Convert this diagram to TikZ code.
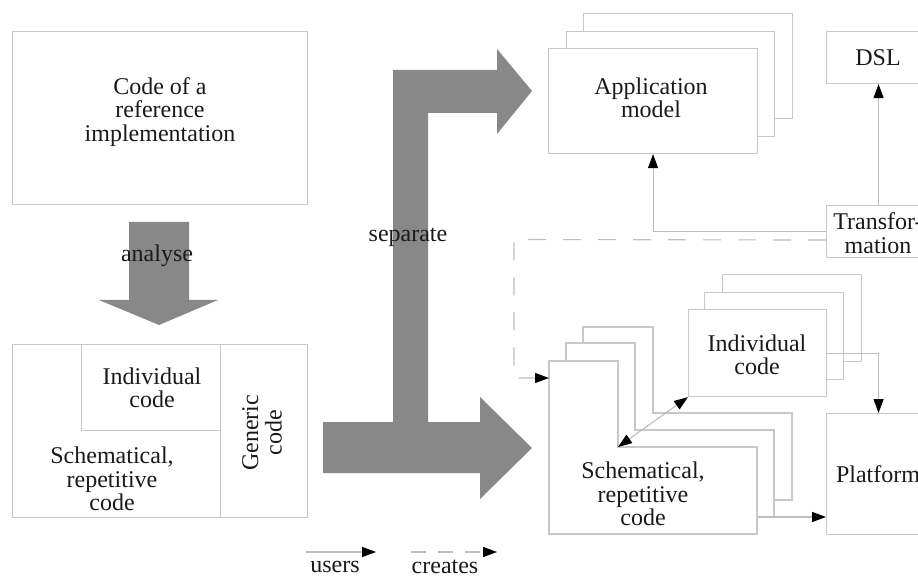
\documentclass[tikz,border=0pt]{standalone}
\usepackage{fontspec}
\setmainfont{Liberation Serif}
\usetikzlibrary{arrows.meta,calc}

\definecolor{boxgray}{HTML}{C8C8C8}
\definecolor{linegray}{HTML}{BEBEBE}
\definecolor{bigfill}{HTML}{888888}
\definecolor{ink}{HTML}{1A1A1A}

% L-shaped box: left, top, notch x, notch y, right, bottom
\newcommand{\lbox}[6]{%
  \filldraw[boxline] (#1,#2) -- (#3,#2) -- (#3,#4) -- (#5,#4) -- (#5,#6) -- (#1,#6) -- cycle;}

\begin{document}
\begin{tikzpicture}[x=1pt,y=-1pt,
  font=\fontsize{24}{23.5}\selectfont, text=ink,
  boxline/.style={draw=boxgray, line width=1.1pt, fill=white},
  rectbox/.style={boxline, inner sep=0pt, anchor=north west},
  label/.style={align=center, inner sep=0pt},
  tipshape/.style={Triangle[length=14pt,width=10pt,color=black]},
  conn/.style={draw=linegray, line width=1.1pt, -{Triangle[length=14pt,width=10pt,color=black]}},
  dconn/.style={conn, dash pattern=on 18pt off 17pt},
  bigarrow/.style={fill=bigfill, draw=none}]

\useasboundingbox (0,0) rectangle (918,577);
\clip (0,0) rectangle (918,577);
\fill[white] (0,0) rectangle (918,577);

% ---------- left column ----------
\node[rectbox, minimum width=295pt, minimum height=173pt] (ref) at (12,31) {};
\node[label] (reftext) at (160,112) {Code of a\\reference\\implementation};

\fill[bigarrow] (129,222) -- (189,222) -- (189,300) -- (218,300) -- (159,325)
  -- (99,300) -- (129,300) -- cycle;
\node[label] (analyse) at (157,256) {analyse};

\node[rectbox, minimum width=295pt, minimum height=173pt] (split) at (12,344) {};
\node[rectbox, minimum width=87pt, minimum height=173pt] (generic) at (220,344) {};
\node[rectbox, minimum width=139pt, minimum height=86pt] (indleft) at (81,344) {};
\node[label] (indlefttext) at (152,388) {Individual\\code};
\node[label] (schlefttext) at (112,479) {Schematical,\\repetitive\\code};
\node[label, rotate=90] (generictext) at (262,433) {Generic\\code};

% ---------- separate arrow ----------
\fill[bigarrow] (323,422) -- (393,422) -- (393,70) -- (497,70) -- (497,49)
  -- (532,91) -- (497,134) -- (497,113) -- (428,113) -- (428,422)
  -- (480,422) -- (480,397) -- (532,448) -- (480,499) -- (480,473)
  -- (323,473) -- cycle;
\node[label] (separate) at (408,237) {separate};

% ---------- application model stack ----------
\node[rectbox, minimum width=209pt, minimum height=105pt] (app3) at (583,13) {};
\node[rectbox, minimum width=208pt, minimum height=105pt] (app2) at (566,31) {};
\node[rectbox, minimum width=209pt, minimum height=105pt] (app1) at (548,48) {};
\node[label] (apptext) at (651,98) {Application\\model};

\node[rectbox, minimum width=104pt, minimum height=52pt] (dsl) at (826,31) {};
\node[label] (dsltext) at (878,58) {DSL};

\node[rectbox, minimum width=104pt, minimum height=52pt] (trans) at (826,205) {};
\node[label] (transtext) at (878,233) {Transfor-\\mation};

% ---------- schematical code stack ----------
\lbox{583}{327}{653}{413}{792}{500}
\lbox{566}{343}{635}{430}{774}{517}
\lbox{549}{361}{618}{447}{757}{534}
\coordinate (schNotch) at (618,447);
\coordinate (schEntry) at (549,378);
\coordinate (schOut) at (757,517);
\coordinate (dCorner) at (514,239.5);
\node[label] (schtext) at (643,494) {Schematical,\\repetitive\\code};

% ---------- individual code stack ----------
\node[rectbox, minimum width=139pt, minimum height=87pt] (ind3) at (722,274) {};
\node[rectbox, minimum width=139pt, minimum height=87pt] (ind2) at (704,292) {};
\node[rectbox, minimum width=138pt, minimum height=87pt] (ind1) at (688,309) {};
\node[label] (indtext) at (757,355) {Individual\\code};

\node[rectbox, minimum width=104pt, minimum height=121pt] (plat) at (826,413) {};
\node[label] (plattext) at (878,474) {Platform};

% ---------- connectors ----------
\draw[conn] (trans.north) -- (dsl.south);
\draw[conn] (trans.west) -| (app1.south);
\draw[dconn] ([yshift=-8.5pt]trans.west) -- (dCorner) |- (schEntry);
\draw[conn] (ind1.east) -| (plat.north);
\draw[conn] (schOut) -- (plat.west |- schOut);
\draw[conn, {Triangle[length=14pt,width=10pt,color=black]}-{Triangle[length=14pt,width=10pt,color=black]}]
  (schNotch) -- (ind1.south west);

% ---------- legend ----------
\coordinate (uA) at (306,552);
\coordinate (uB) at (376,552);
\coordinate (cA) at (411,552);
\coordinate (cB) at (497,552);
\draw[conn] (uA) -- (uB);
\draw[dconn, dash pattern=on 15pt off 12pt] (cA) -- (cB);
\node[label] (users) at (335,567) {users};
\node[label] (creates) at (445,566.5) {creates};

\end{tikzpicture}
\end{document}
